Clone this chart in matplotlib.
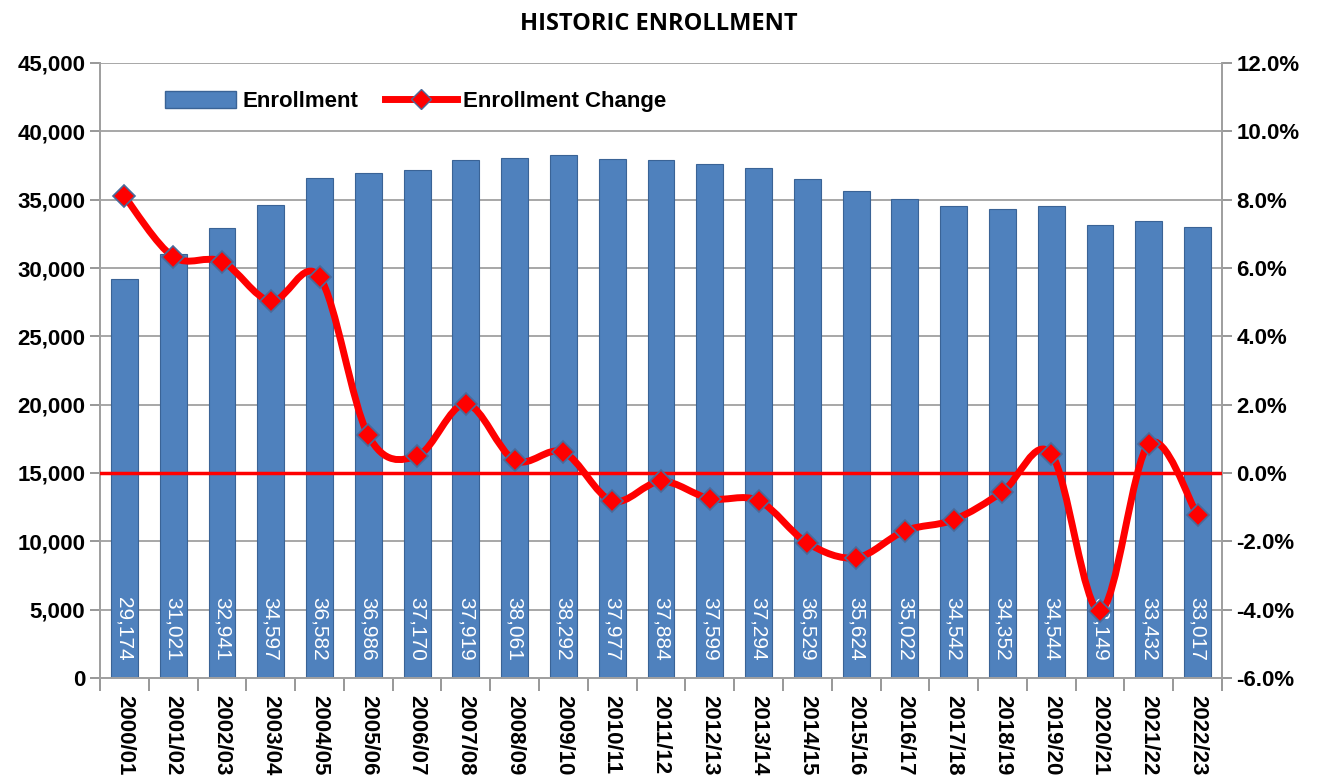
import numpy as np
import matplotlib
matplotlib.use('Agg')
import matplotlib.pyplot as plt
from matplotlib.path import Path
from matplotlib.patches import PathPatch
from matplotlib.lines import Line2D
from matplotlib.patches import Patch

years = ['2000/01', '2001/02', '2002/03', '2003/04', '2004/05', '2005/06',
         '2006/07', '2007/08', '2008/09', '2009/10', '2010/11', '2011/12',
         '2012/13', '2013/14', '2014/15', '2015/16', '2016/17', '2017/18',
         '2018/19', '2019/20', '2020/21', '2021/22', '2022/23']
enrollment = [29174, 31021, 32941, 34597, 36582, 36986, 37170, 37919, 38061,
              38292, 37977, 37884, 37599, 37294, 36529, 35624, 35022, 34542,
              34352, 34544, 33149, 33432, 33017]
change_pct = [8.1, 6.33, 6.19, 5.03, 5.74, 1.10, 0.50, 2.02, 0.37, 0.61,
              -0.82, -0.24, -0.75, -0.81, -2.05, -2.48, -1.69, -1.37, -0.55,
              0.56, -4.04, 0.85, -1.24]

FONT = ['Liberation Sans Narrow', 'Liberation Sans', 'DejaVu Sans']
BLUE = '#4F81BD'
RED = '#FF0000'


def smooth_path(xs, ys, t=1 / 6):
    """Curva bezier tipo Catmull-Rom attraverso i punti (come lo smoothing di Excel)"""
    pts = np.column_stack([xs, ys]).astype(float)
    verts = [pts[0]]
    codes = [Path.MOVETO]
    n = len(pts)
    for i in range(n - 1):
        p0 = pts[i - 1] if i > 0 else pts[i]
        p1 = pts[i]
        p2 = pts[i + 1]
        p3 = pts[i + 2] if i + 2 < n else pts[i + 1]
        c1 = p1 + (p2 - p0) * t
        c2 = p2 - (p3 - p1) * t
        verts += [c1, c2, p2]
        codes += [Path.CURVE4] * 3
    return Path(verts, codes)


fig = plt.figure(figsize=(13.17, 7.76), dpi=100)
ax = fig.add_axes([100 / 1317, 98 / 776, 1122 / 1317, 615 / 776])
x = np.arange(len(years))

ax.set_axisbelow(True)
ax.yaxis.grid(True, color='#A0A0A0', linewidth=1.3)
ax.bar(x, enrollment, width=0.55, color=BLUE, edgecolor='#3A6396',
       linewidth=0.8, zorder=2)

ax.set_xlim(-0.5, len(years) - 0.5)
ax.set_ylim(0, 45000)
ax.set_yticks(np.arange(0, 45001, 5000))
ax.set_yticklabels([f'{v:,}' for v in range(0, 45001, 5000)])
ax.set_xticks(x)
ax.set_xticklabels(years, rotation=270)
ax.set_xticks(np.arange(-0.5, len(years), 1), minor=True)
ax.tick_params(axis='x', which='major', length=0, pad=12)
ax.tick_params(axis='x', which='minor', length=9, width=1.3, color='#909090')
ax.tick_params(axis='y', length=7, width=1.3, color='#909090')
for lab in ax.get_xticklabels() + ax.get_yticklabels():
    lab.set_fontfamily(FONT)
    lab.set_fontweight('bold')
    lab.set_fontsize(16)
for sp in ax.spines.values():
    sp.set_color('#A0A0A0')
    sp.set_linewidth(1.3)
ax.spines['top'].set_visible(False)

# etichette dentro le barre
for xi, v in zip(x, enrollment):
    ax.text(xi, 1250, f'{v:,}', rotation=270, ha='center', va='bottom',
            color='white', fontsize=15, family=FONT, zorder=6)

ax2 = ax.twinx()
ax2.set_ylim(-6, 12)
ax2.set_yticks(np.arange(-6, 12.1, 2))
ax2.set_yticklabels([f'{v:.1f}%' for v in np.arange(-6, 12.1, 2)])
ax2.tick_params(axis='y', length=7, width=1.3, color='#909090')
for lab in ax2.get_yticklabels():
    lab.set_fontfamily(FONT)
    lab.set_fontweight('bold')
    lab.set_fontsize(16)
for sp in ax2.spines.values():
    sp.set_color('#A0A0A0')
    sp.set_linewidth(1.3)
ax2.spines['top'].set_visible(False)

ax2.axhline(0, color=RED, linewidth=2.5, zorder=3)
ax2.add_patch(PathPatch(smooth_path(x, change_pct), facecolor='none',
                        edgecolor=RED, linewidth=5, capstyle='round',
                        joinstyle='round', zorder=4))
ax2.plot(x, change_pct, linestyle='none', marker='D', markersize=11,
         markerfacecolor=RED, markeredgecolor='#4A6A99', markeredgewidth=1.2,
         zorder=5)

handles = [Patch(facecolor=BLUE, edgecolor='#3A6396'),
           Line2D([0], [0], color=RED, linewidth=5, marker='D', markersize=10,
                  markerfacecolor=RED, markeredgecolor='#4A6A99')]
ax2.legend(handles, ['Enrollment', 'Enrollment Change'], loc='center left',
           bbox_to_anchor=(0.058, 0.937), ncol=2, frameon=False,
           borderpad=0, borderaxespad=0,
           prop={'family': FONT, 'weight': 'bold', 'size': 16},
           handlelength=3.2, handleheight=0.8, columnspacing=1.2,
           handletextpad=0.3)

fig.suptitle('HISTORIC ENROLLMENT', x=0.5, y=0.985, fontsize=17,
             fontweight='bold', family=['Open Sans', 'DejaVu Sans'])

fig.savefig('out.png', dpi=100)
